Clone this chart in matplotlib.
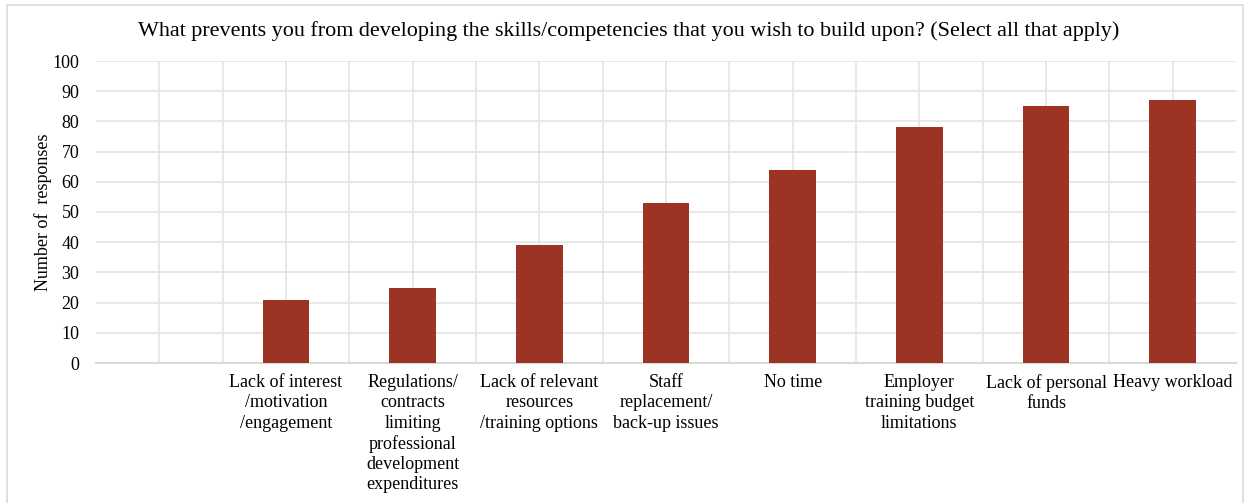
import matplotlib.pyplot as plt
import numpy as np
from matplotlib.patches import Rectangle

plt.rcParams['font.family'] = ['Liberation Serif', 'DejaVu Serif']

# Survey responses (first slot left empty)
categories = ['',
              'Lack of interest\n/motivation\n/engagement',
              'Regulations/\ncontracts\nlimiting\nprofessional\ndevelopment\nexpenditures',
              'Lack of relevant\nresources\n/training options',
              'Staff\nreplacement/\nback-up issues',
              'No time',
              'Employer\ntraining budget\nlimitations',
              'Lack of personal\nfunds',
              'Heavy workload']
responses = [0, 21, 25, 39, 53, 64, 78, 85, 87]

fig = plt.figure(figsize=(12.49, 5.03), dpi=100)
ax = fig.add_axes([96 / 1249, 1 - 363 / 503, (1236 - 96) / 1249, (363 - 61) / 503])

x = np.arange(len(categories))
ax.bar(x[1:], responses[1:], width=0.37, color='#9C3323', zorder=3)

ax.set_xlim(-0.5, len(categories) - 0.5)
ax.set_ylim(0, 100)
ax.set_yticks(range(0, 101, 10))
ax.set_xticks(x)
ax.set_xticklabels(categories, fontsize=13, linespacing=1.25)
ax.set_xticks(x[:-1] + 0.5, minor=True)
ax.tick_params(axis='both', which='both', length=0, labelsize=13)
ax.tick_params(axis='x', pad=8)
ax.tick_params(axis='y', pad=12)

ax.grid(True, which='both', color='#e4e4e4', linewidth=1.2, zorder=0)
ax.set_axisbelow(True)
for side in ['top', 'right', 'left']:
    ax.spines[side].set_visible(False)
ax.spines['bottom'].set_color('#d9d9d9')
ax.spines['bottom'].set_linewidth(1.5)

ax.set_ylabel('Number of  responses', fontsize=13, labelpad=0)
fig.text(629 / 1249, 1 - 31 / 503,
         'What prevents you from developing the skills/competencies that you wish to build upon? (Select all that apply)',
         ha='center', va='center', fontsize=15.9)

# light frame around the whole chart
fig.patches.append(Rectangle((7 / 1249, -0.01), (1243 - 7) / 1249, 1 - 5 / 503 + 0.01,
                             transform=fig.transFigure, fill=False,
                             edgecolor='#d9d9d9', linewidth=1.2))

fig.savefig('out.png', dpi=100)
